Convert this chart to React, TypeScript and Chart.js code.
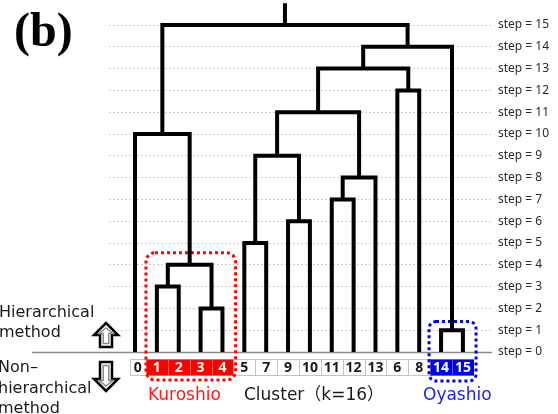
import React, { useEffect, useRef } from 'react';
import { Chart, registerables } from 'chart.js';

Chart.register(...registerables);

// ---- data ----
const leafLabels = ['0', '1', '2', '3', '4', '5', '7', '9', '10', '11', '12', '13', '6', '8', '14', '15'];
const stepTicks = [0, 1, 2, 3, 4, 5, 6, 7, 8, 9, 10, 11, 12, 13, 14, 15];
const mergeSteps = [1, 2, 3, 4, 5, 6, 7, 8, 9, 10, 11, 12, 13, 14, 15];
const mergeLeft = ['14', '3', '1', 's3', '5', '9', '11', 's7', 's5', '0', 's9', '6', 's11', 's13', 's10'];
const mergeRight = ['15', '4', '2', 's2', '7', '10', '12', '13', 's6', 's4', 's8', '8', 's12', 's1', 's14'];
const rootStemTop = 16;
const kuroshioLeaves = ['1', '2', '3', '4'];
const oyashioLeaves = ['14', '15'];
const panelLabel = '(b)';
const upperMethodText = ['Hierarchical', 'method'];
const lowerMethodText = ['Non–', 'hierarchical', 'method'];
const kuroshioText = 'Kuroshio';
const oyashioText = 'Oyashio';
const clusterText = 'Cluster（k=16）';

// ---- build link polylines ----
type Node = { x: number; y: number };
function buildLinks() {
  const nodes: Record<string, Node> = {};
  leafLabels.forEach((lab, i) => (nodes[lab] = { x: i, y: 0 }));
  const links: { x: number; y: number }[][] = [];
  mergeSteps.forEach((h, k) => {
    const l = nodes[mergeLeft[k]];
    const r = nodes[mergeRight[k]];
    links.push([
      { x: l.x, y: l.y },
      { x: l.x, y: h },
      { x: r.x, y: h },
      { x: r.x, y: r.y },
    ]);
    nodes['s' + h] = { x: (l.x + r.x) / 2, y: h };
  });
  const root = nodes['s' + mergeSteps[mergeSteps.length - 1]];
  links.push([
    { x: root.x, y: root.y },
    { x: root.x, y: rootStemTop },
  ]);
  return links;
}

const RED = '#ff0000';
const BLUE = '#0000ee';
const SANS = '"DejaVu Sans", "Noto Sans CJK JP", sans-serif';

function arrowPath(
  ctx: CanvasRenderingContext2D,
  cx: number,
  yTip: number,
  yBase: number,
  yTail: number,
  headW: number,
  shaftW: number
) {
  ctx.beginPath();
  ctx.moveTo(cx, yTip);
  ctx.lineTo(cx + headW, yBase);
  ctx.lineTo(cx + shaftW, yBase);
  ctx.lineTo(cx + shaftW, yTail);
  ctx.lineTo(cx - shaftW, yTail);
  ctx.lineTo(cx - shaftW, yBase);
  ctx.lineTo(cx - headW, yBase);
  ctx.closePath();
}

function drawArrow(ctx: CanvasRenderingContext2D, cx: number, yTip: number, yTail: number) {
  const s = yTail > yTip ? 1 : -1;
  const yBase = yTip + s * 12;
  ctx.save();
  ctx.lineJoin = 'miter';
  arrowPath(ctx, cx, yTip, yBase, yTail, 12, 6);
  ctx.fillStyle = '#ffffff';
  ctx.fill();
  ctx.strokeStyle = '#000';
  ctx.lineWidth = 2.5;
  ctx.stroke();
  arrowPath(ctx, cx, yTip + s * 5, yBase - s * 1.5, yTail - s * 3.5, 6.8, 2.8);
  ctx.strokeStyle = '#8a8a8a';
  ctx.lineWidth = 1.5;
  ctx.stroke();
  ctx.restore();
}

const decorPlugin = {
  id: 'decor',
  beforeDatasetsDraw(chart: any) {
    const { ctx, chartArea, scales } = chart;
    const x = scales.x;
    const y = scales.y;
    const y0 = y.getPixelForValue(0);
    ctx.save();
    // baseline (step 0)
    ctx.strokeStyle = '#8a8a8a';
    ctx.lineWidth = 1.5;
    ctx.beginPath();
    ctx.moveTo(32, y0 + 0.5);
    ctx.lineTo(chartArea.right, y0 + 0.5);
    ctx.stroke();

    // leaf cells
    const unit = x.getPixelForValue(1) - x.getPixelForValue(0);
    const top = y0 + 7;
    const h = 17;
    leafLabels.forEach((lab, i) => {
      const cx = x.getPixelForValue(i);
      const left = Math.round(i === 0 ? cx - unit / 4 : cx - unit / 2);
      const right = Math.round(cx + unit / 2);
      const isK = kuroshioLeaves.includes(lab);
      const isO = oyashioLeaves.includes(lab);
      ctx.fillStyle = isK ? RED : isO ? BLUE : '#ffffff';
      ctx.fillRect(left, top, right - left, h);
      ctx.strokeStyle = isK || isO ? 'rgba(255,255,255,0.35)' : '#c4c4c4';
      ctx.lineWidth = 1;
      ctx.strokeRect(left + 0.5, top + 0.5, right - left, h - 1);
    });
    leafLabels.forEach((lab, i) => {
      const cx = x.getPixelForValue(i) + (i === 0 ? unit / 8 : 0);
      const isK = kuroshioLeaves.includes(lab);
      const isO = oyashioLeaves.includes(lab);
      ctx.font = 'bold 14px "Noto Sans", sans-serif';
      ctx.textAlign = 'center';
      ctx.textBaseline = 'middle';
      ctx.fillStyle = isK || isO ? '#ffffff' : '#1a1a1a';
      ctx.fillText(lab, cx, top + h / 2 + 1);
    });

    // dotted group boxes
    ctx.setLineDash([3, 3]);
    ctx.lineWidth = 3;
    ctx.strokeStyle = RED;
    const kl = x.getPixelForValue(0.5);
    const kr = x.getPixelForValue(4.6);
    const kt = y.getPixelForValue(4.55);
    const kb = y0 + 28;
    ctx.beginPath();
    ctx.roundRect(kl, kt, kr - kl, kb - kt, 9);
    ctx.stroke();
    ctx.strokeStyle = BLUE;
    const ol = x.getPixelForValue(13.45);
    const or = x.getPixelForValue(15.6);
    const ot = y.getPixelForValue(1.4);
    const ob = y0 + 29;
    ctx.beginPath();
    ctx.roundRect(ol, ot, or - ol, ob - ot, 7);
    ctx.stroke();
    ctx.restore();
  },
  afterDraw(chart: any) {
    const { ctx } = chart;
    ctx.save();
    ctx.textAlign = 'left';
    ctx.textBaseline = 'alphabetic';
    // panel label
    ctx.fillStyle = '#000';
    ctx.font = 'bold 48px "Liberation Serif", serif';
    ctx.fillText(panelLabel, 14, 46);
    // method labels
    ctx.font = '16px ' + SANS;
    ctx.fillStyle = '#1a1a1a';
    const upBase = [317, 337];
    upperMethodText.forEach((t, i) => ctx.fillText(t, -1, upBase[i]));
    const lowBase = [372, 393, 413];
    lowerMethodText.forEach((t, i) => ctx.fillText(t, -2, lowBase[i]));
    // arrows
    drawArrow(ctx, 106, 323, 347);
    drawArrow(ctx, 106, 391, 362);
    // group texts
    ctx.font = '17px ' + SANS;
    ctx.fillStyle = '#ff1a1a';
    ctx.fillText(kuroshioText, 148, 400);
    ctx.fillStyle = '#1a1a1a';
    ctx.fillText(clusterText, 244, 400);
    ctx.fillStyle = '#2020ee';
    ctx.fillText(oyashioText, 423, 400);
    ctx.restore();
  },
};

export default function App() {
  const canvasRef = useRef<HTMLCanvasElement | null>(null);
  useEffect(() => {
    document.body.style.margin = '0';
    const links = buildLinks();
    const chart = new Chart(canvasRef.current as HTMLCanvasElement, {
      type: 'scatter',
      data: {
        datasets: links.map((pts) => ({
          data: pts,
          showLine: true,
          borderColor: '#000',
          backgroundColor: '#000',
          borderWidth: 4,
          pointRadius: 0,
          pointHoverRadius: 0,
          tension: 0,
          borderJoinStyle: 'miter' as const,
          borderCapStyle: 'butt' as const,
          clip: false as any,
        })),
      },
      options: {
        responsive: false,
        animation: false,
        events: [],
        layout: { padding: { left: 109, top: 25, bottom: 62, right: 0 } },
        plugins: { legend: { display: false }, tooltip: { enabled: false } },
        scales: {
          x: {
            type: 'linear',
            display: false,
            min: -1.19,
            max: 16.33,
          },
          y: {
            type: 'linear',
            position: 'right',
            min: 0,
            max: 15,
            afterFit: (s: any) => {
              s.width = 66;
            },
            afterBuildTicks: (s: any) => {
              s.ticks = stepTicks.map((v) => ({ value: v }));
            },
            border: { display: false, dash: [2, 2] },
            grid: {
              drawTicks: false,
              color: (c: any) => (c.tick && c.tick.value === 0 ? 'rgba(0,0,0,0)' : '#cfcfcf'),
              lineWidth: 1,
            },
            ticks: {
              padding: 6,
              color: '#2a2a2a',
              font: { family: '"Noto Sans", sans-serif', size: 12 },
              callback: (v: any) => 'step = ' + v,
            },
          },
        },
      },
      plugins: [decorPlugin],
    });
    return () => chart.destroy();
  }, []);
  return (
    <div style={{ width: 558, height: 414, position: 'relative' }}>
      <canvas ref={canvasRef} width={558} height={414} />
    </div>
  );
}
